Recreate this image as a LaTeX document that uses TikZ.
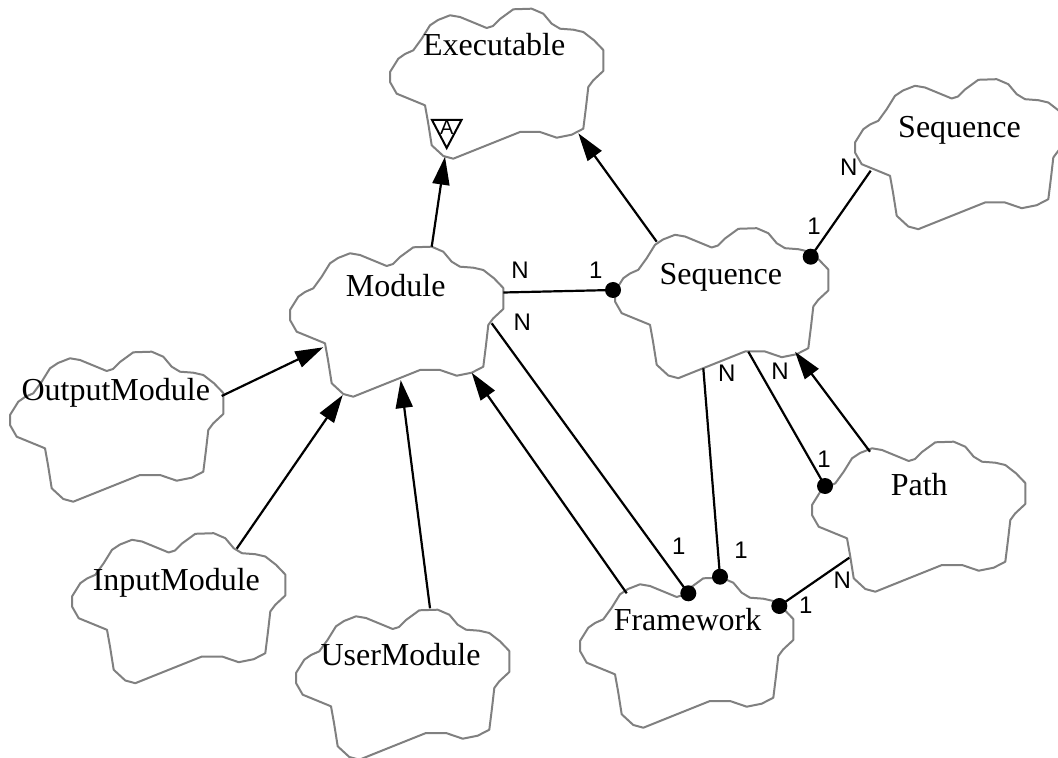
\documentclass[tikz,border=0pt]{standalone}
\usepackage{fontspec}
\setmainfont{Liberation Serif}
\newfontfamily\lblfont{Liberation Sans}
\usetikzlibrary{arrows.meta}
\definecolor{cloudgray}{RGB}{128,128,128}
\tikzset{
  cloudline/.style={draw=cloudgray, line width=1pt, fill=white, line join=round},
  cname/.style={font=\fontsize{16}{18}\selectfont, inner sep=0pt, anchor=base},
  mult/.style={font=\lblfont\fontsize{12}{13}\selectfont, inner sep=0pt},
  conn/.style={line width=1.1pt},
  inherit/.style={line width=1.1pt, -{Triangle[length=14pt,width=8.5pt]}},
  assocdot/.style={circle, fill=black, inner sep=0pt, minimum size=8pt},
  cloudpic/.pic={
    \path[cloudline] (321.7,276.7) -- (330,263.3) -- (338,258) -- (350,253.3) -- (360,255)
      -- (386.7,266) -- (393,264) -- (400,257) -- (413.3,247.3) -- (431.7,246.7)
      -- (443.3,251.7) -- (451.7,261.7) -- (460,266.7) -- (473.3,267.7) -- (483.3,270)
      -- (494,278.3) -- (503.3,288) -- (503.3,309) -- (493.3,318.3) -- (488.3,325)
      -- (486,345) -- (483.3,366.7) -- (471.7,372.7) -- (456.7,375.7) -- (440,370)
      -- (420,370) -- (353.3,396.7) -- (343.3,394) -- (331.7,383.3) -- (328,360)
      -- (325,343.3) -- (296.7,331.7) -- (290,320) -- (290,310) -- (298.3,296.7)
      -- (305,292) -- (313.3,288.3) -- cycle;
  },
}
\begin{document}
\begin{tikzpicture}[x=0.5pt, y=-0.5pt]
\useasboundingbox (0,0) rectangle (1058,758);

% clouds
\pic at (100,-238) {cloudpic};
\pic at (0,0) {cloudpic};
\pic at (565,-167.5) {cloudpic};
\pic at (325,-18.5) {cloudpic};
\pic at (-280,105) {cloudpic};
\pic at (-218,286.5) {cloudpic};
\pic at (6,363) {cloudpic};
\pic at (290,331) {cloudpic};
\pic at (522,195) {cloudpic};

% class names
\node[cname] (exec)  at (494.2,56)   {Executable};
\node[cname] (module) at (395.7,296.7) {Module};
\node[cname] (seqr)  at (959.5,137.3) {Sequence};
\node[cname] (seq)   at (720.8,285)   {Sequence};
\node[cname] (outm)  at (115.8,400.7) {OutputModule};
\node[cname] (inm)   at (176.3,590.7) {InputModule};
\node[cname] (userm) at (400.5,665)   {UserModule};
\node[cname] (fw)    at (687.5,630.7) {Framework};
\node[cname] (path)  at (919.2,495)   {Path};

% abstract adornment
\draw[line width=1pt, line join=miter] (432,120) -- (461.5,120) -- (446.7,148) -- cycle;
\node[inner sep=0pt, anchor=north, font=\lblfont\fontsize{10}{11}\selectfont] (abs) at (446.7,120.5) {A};

% connector end points on cloud outlines
\coordinate (modTop) at (431.7,246.7);
\coordinate (execBL) at (445,156.7);
\coordinate (seqTop) at (656.7,241.7);
\coordinate (execBR) at (578.3,133.3);
\coordinate (outR)   at (221.7,396);
\coordinate (modL)   at (323.3,347.3);
\coordinate (inTop)  at (236.7,548.7);
\coordinate (modBL)  at (342.7,395);
\coordinate (userTop) at (430,608.3);
\coordinate (modB)   at (400.7,380);
\coordinate (fwTL)   at (626.7,593.3);
\coordinate (modBR)  at (471.7,372.7);
\coordinate (pathTop) at (870,451.7);
\coordinate (seqBR)  at (795,351.7);
\coordinate (modR)   at (503.3,292.5);
\coordinate (modR2)  at (491.7,323.3);
\coordinate (seqB1)  at (703.3,368.3);
\coordinate (seqB2)  at (748.3,351.7);
\coordinate (pathBL) at (849.3,557.7);
\coordinate (seqrBL) at (870.7,170.7);

% association dots
\node[assocdot] (dSeqL)  at (613,290) {};
\node[assocdot] (dFw1)   at (688.3,593.3) {};
\node[assocdot] (dFw2)   at (720,576.7) {};
\node[assocdot] (dFw3)   at (779.3,606) {};
\node[assocdot] (dPath)  at (825,486) {};
\node[assocdot] (dSeqR)  at (810.7,256.7) {};

% inheritance
\draw[inherit] (modTop) -- (execBL);
\draw[inherit] (seqTop) -- (execBR);
\draw[inherit] (outR) -- (modL);
\draw[inherit] (inTop) -- (modBL);
\draw[inherit] (userTop) -- (modB);
\draw[inherit] (fwTL) -- (modBR);
\draw[inherit] (pathTop) -- (seqBR);

% associations
\draw[conn] (modR) -- (dSeqL.center);
\draw[conn] (modR2) -- (dFw1.center);
\draw[conn] (seqB1) -- (dFw2.center);
\draw[conn] (seqB2) -- (dPath.center);
\draw[conn] (dFw3.center) -- (pathBL);
\draw[conn] (dSeqR.center) -- (seqrBL);

% multiplicities
\node[mult] (m1) at (520,270) {N};
\node[mult] (m2) at (595.7,270) {1};
\node[mult] (m3) at (522.3,322.3) {N};
\node[mult] (m4) at (678.7,546.7) {1};
\node[mult] (m5) at (726.7,373.7) {N};
\node[mult] (m6) at (741,550) {1};
\node[mult] (m7) at (780,371.7) {N};
\node[mult] (m8) at (824,459.3) {1};
\node[mult] (m9) at (842.3,580.7) {N};
\node[mult] (m10) at (805.7,605) {1};
\node[mult] (m11) at (848.7,167.3) {N};
\node[mult] (m12) at (814,226.7) {1};
\end{tikzpicture}
\end{document}
